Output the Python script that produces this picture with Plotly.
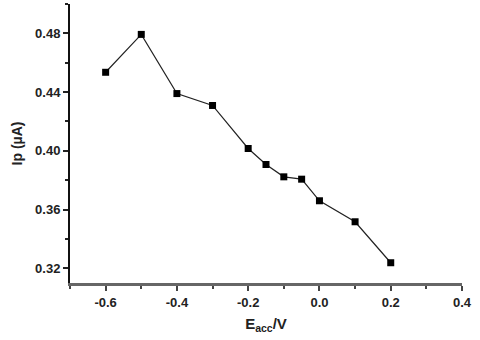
import plotly.graph_objects as go

e_acc = [-0.6, -0.5, -0.4, -0.3, -0.2, -0.15, -0.1, -0.05, 0.0, 0.1, 0.2]
ip = [0.4535, 0.4793, 0.439, 0.4309, 0.4016, 0.3907, 0.3823, 0.3807, 0.366, 0.3517, 0.3238]

x_ticks = [-0.6, -0.4, -0.2, 0.0, 0.2, 0.4]
y_ticks = [0.32, 0.36, 0.40, 0.44, 0.48]

fig = go.Figure(
    go.Scatter(
        x=e_acc,
        y=ip,
        mode="lines+markers",
        line=dict(color="#222", width=1.2),
        marker=dict(symbol="square", size=7, color="black"),
        cliponaxis=False,
    )
)

font = dict(family="Liberation Sans, Arial, sans-serif", size=13, color="#222")

fig.update_layout(
    width=480,
    height=340,
    margin=dict(l=70, r=18, t=4, b=57),
    plot_bgcolor="white",
    paper_bgcolor="white",
    showlegend=False,
    font=font,
)

fig.update_xaxes(
    automargin=False,
    range=[-0.7, 0.4],
    tickvals=x_ticks,
    ticktext=["<b>%.1f</b>" % v for v in x_ticks],
    ticks="outside",
    ticklen=5,
    tickwidth=1.5,
    tickcolor="#444",
    minor=dict(dtick=0.1, tick0=0, ticks="outside", ticklen=3, tickcolor="#444"),
    showline=True,
    linecolor="#666",
    linewidth=3,
    showgrid=False,
    zeroline=False,
    title=dict(text="<b>E<sub>acc</sub>/V</b>", font=dict(size=15), standoff=10),
)

fig.update_yaxes(
    automargin=False,
    range=[0.31, 0.50],
    tickvals=y_ticks,
    ticktext=["<b>%.2f</b>" % v for v in y_ticks],
    ticks="outside",
    ticklen=5,
    tickwidth=1.5,
    tickcolor="#222",
    minor=dict(dtick=0.02, tick0=0, ticks="outside", ticklen=3, tickcolor="#222"),
    showline=True,
    linecolor="#111",
    linewidth=2,
    showgrid=False,
    zeroline=False,
    title=dict(text="<b>Ip (µA)</b>", font=dict(size=14), standoff=9),
)

# the page's default body margin would shift the 480x340 figure by 8px
fig.write_html(
    "out.html",
    config={"displayModeBar": False},
    post_script="document.body.style.margin = '0';",
)
